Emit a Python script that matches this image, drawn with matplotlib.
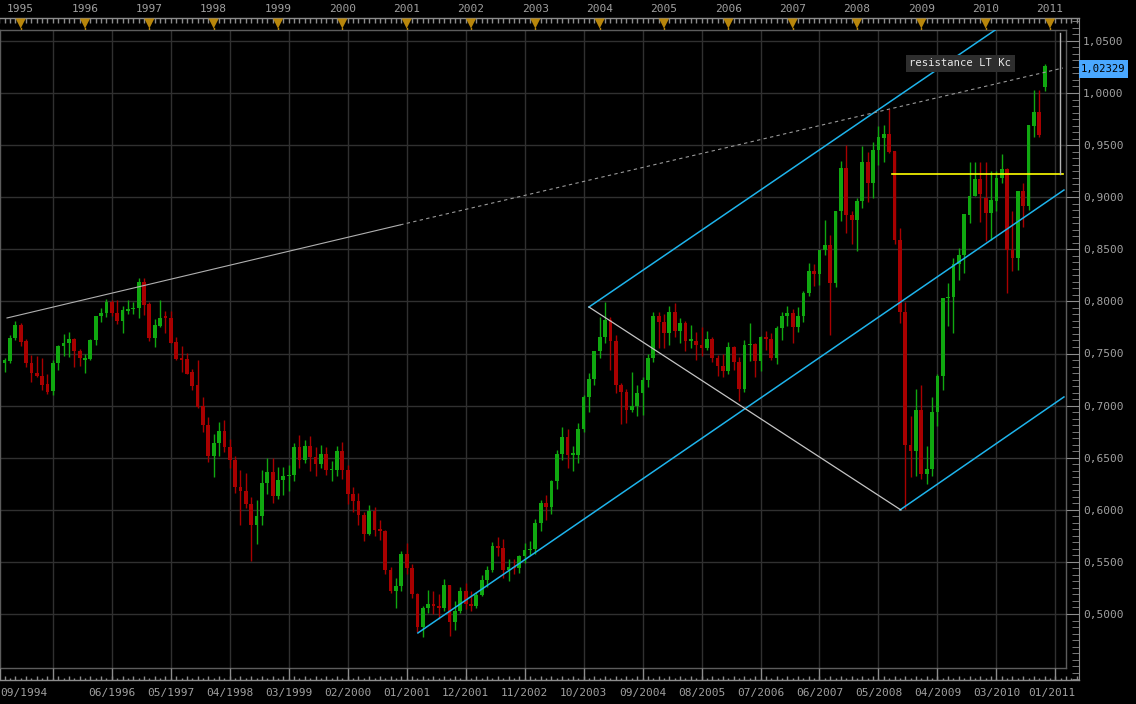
"""Monthly candlestick chart, Oct 1994 - Dec 2010, with channel lines."""
import numpy as np
import matplotlib
matplotlib.use('Agg')
import matplotlib.pyplot as plt
from matplotlib.patches import Polygon, Rectangle

W, H = 1136, 704

# month index 0 = Oct 1994
OPEN = [.741, .743, .765, .777, .762, .741, .731, .728, .721, .714,
        .7405, .7575, .7597, .7635, .7525, .7438, .7447, .763, .786, .789,
        .799, .789, .7815, .7907, .7926, .7935, .8186, .7975, .7652, .7767,
        .7853, .7837, .7607, .7457, .745, .7326, .7198, .700, .681, .652,
        .664, .676, .660, .648, .622, .618, .606, .585, .594, .626,
        .636, .613, .629, .632, .633, .660, .648, .661, .651, .644,
        .654, .638, .638, .656, .638, .615, .608, .595, .577, .599,
        .581, .580, .542, .522, .527, .558, .544, .519, .488, .506,
        .510, .508, .506, .528, .492, .503, .522, .510, .508, .518,
        .533, .542, .565, .563, .542, .545, .544, .556, .561, .562,
        .587, .607, .603, .628, .654, .670, .653, .653, .678, .708,
        .726, .752, .766, .782, .762, .720, .713, .696, .700, .712,
        .725, .746, .786, .780, .770, .790, .772, .779, .762, .762,
        .758, .755, .764, .746, .738, .733, .756, .742, .716, .758,
        .759, .743, .766, .764, .746, .774, .786, .789, .775, .786,
        .808, .829, .826, .849, .854, .818, .887, .928, .883, .878,
        .8965, .934, .914, .945, .957, .9607, .9443, .859, .790, .662,
        .656, .696, .634, .639, .694, .728, .803, .804, .836, .845,
        .8829, .9012, .9175, .899, .885, .8966, .918, .927, .849, .842,
        .9058, .892, .968, .982, 1.006]
HIGH = [.746, .768, .781, .779, .764, .749, .748, .746, .730, .7436,
        .758, .7687, .7706, .765, .754, .7495, .764, .786, .794, .802,
        .8013, .801, .7956, .8018, .7994, .8225, .8225, .7997, .7831, .8013,
        .7907, .7907, .7656, .7572, .7505, .7352, .7438, .708, .689, .673,
        .684, .686, .668, .652, .638, .635, .612, .609, .638, .650,
        .650, .641, .641, .643, .664, .672, .667, .671, .660, .662,
        .660, .647, .661, .665, .643, .622, .616, .598, .605, .603,
        .590, .581, .545, .535, .560, .568, .548, .520, .508, .523,
        .522, .519, .534, .528, .512, .526, .530, .522, .521, .537,
        .546, .569, .574, .572, .553, .553, .557, .568, .570, .591,
        .609, .614, .629, .657, .679, .678, .661, .683, .710, .731,
        .752, .785, .799, .785, .768, .722, .716, .732, .720, .727,
        .750, .790, .790, .788, .796, .798, .784, .781, .777, .771,
        .775, .772, .766, .749, .750, .761, .757, .747, .763, .779,
        .760, .767, .772, .770, .776, .790, .796, .793, .795, .810,
        .837, .836, .849, .878, .864, .887, .935, .950, .887, .899,
        .949, .943, .953, .968, .969, .985, .944, .870, .799, .690,
        .716, .720, .661, .708, .730, .803, .818, .842, .851, .884,
        .934, .934, .934, .934, .925, .925, .941, .928, .887, .906,
        .914, .969, 1.003, 1.003, 1.028]
LOW = [.732, .741, .763, .757, .737, .723, .727, .715, .711, .7105,
       .734, .7475, .7465, .737, .738, .731, .7438, .7582, .7805, .7853,
       .786, .7783, .7697, .7879, .7879, .7841, .7869, .762, .7565, .7757,
       .7697, .760, .7438, .7326, .7304, .715, .698, .675, .646, .631,
       .652, .655, .640, .616, .585, .602, .551, .567, .585, .615,
       .607, .610, .614, .618, .628, .640, .645, .637, .632, .640,
       .633, .628, .632, .630, .606, .598, .585, .570, .576, .575,
       .571, .538, .520, .506, .522, .538, .515, .483, .478, .501,
       .500, .495, .503, .479, .485, .501, .505, .503, .506, .517,
       .526, .540, .556, .535, .532, .538, .539, .549, .557, .558,
       .580, .590, .596, .620, .648, .640, .637, .645, .675, .694,
       .720, .746, .760, .734, .712, .682, .683, .694, .690, .691,
       .718, .742, .755, .755, .758, .766, .760, .752, .755, .744,
       .748, .753, .742, .728, .727, .730, .734, .704, .713, .743,
       .727, .733, .753, .744, .740, .763, .776, .760, .771, .780,
       .805, .815, .816, .845, .768, .814, .877, .866, .855, .848,
       .8895, .895, .899, .931, .934, .942, .855, .779, .601, .631,
       .632, .630, .625, .632, .680, .715, .776, .770, .821, .827,
       .875, .901, .876, .858, .859, .887, .914, .808, .829, .830,
       .871, .888, .958, .958, 1.002]
CLOSE = [.744, .765, .777, .761, .741, .731, .728, .720, .713, .7405,
         .7575, .7597, .7635, .7525, .7457, .7457, .763, .786, .789, .799,
         .789, .781, .7917, .7926, .7936, .8186, .7965, .7652, .7774, .7837,
         .7843, .7603, .7445, .7438, .7306, .7188, .699, .681, .652, .664,
         .676, .660, .648, .622, .618, .606, .585, .594, .626, .636,
         .613, .629, .632, .633, .660, .648, .661, .651, .644, .654,
         .638, .638, .656, .638, .615, .608, .595, .577, .599, .581,
         .580, .542, .522, .527, .558, .544, .519, .488, .506, .510,
         .508, .506, .528, .492, .503, .522, .510, .508, .518, .533,
         .542, .565, .563, .542, .545, .544, .556, .561, .562, .587,
         .607, .603, .628, .654, .670, .653, .653, .678, .708, .726,
         .752, .766, .782, .762, .720, .713, .696, .700, .712, .725,
         .746, .786, .780, .770, .790, .772, .779, .762, .762, .758,
         .755, .764, .746, .738, .733, .756, .742, .716, .758, .759,
         .743, .766, .764, .746, .774, .786, .789, .775, .786, .808,
         .829, .826, .849, .854, .818, .887, .928, .883, .878, .896,
         .934, .914, .945, .9575, .9607, .9437, .859, .790, .662, .656,
         .696, .634, .639, .694, .728, .803, .804, .836, .845, .884,
         .9012, .9175, .903, .885, .8973, .9188, .927, .849, .842, .9058,
         .892, .969, .982, .9597, 1.026]

YEARS = ['1995', '1996', '1997', '1998', '1999', '2000', '2001', '2002', '2003',
         '2004', '2005', '2006', '2007', '2008', '2009', '2010', '2011']
DATE_LABELS = ['06/1996', '05/1997', '04/1998', '03/1999', '02/2000', '01/2001',
               '12/2001', '11/2002', '10/2003', '09/2004', '08/2005', '07/2006',
               '06/2007', '05/2008', '04/2009', '03/2010']
FIRST_LABEL = '09/1994'
LAST_LABEL = '01/2011'
PRICE_TICKS = [0.50, 0.55, 0.60, 0.65, 0.70, 0.75, 0.80, 0.85, 0.90, 0.95, 1.00, 1.05]
LAST_PRICE = 1.02329

# drawn annotations, (month index, price)
CHANNEL_LINES = [
    [(109.0, 0.7946), (186.5, 1.0665)],
    [(77.1, 0.4818), (197.6, 0.9069)],
    [(167.0, 0.5998), (197.6, 0.7083)],
]
WHITE_LINE = [(109.0, 0.7946), (167.2, 0.5998)]
GRAY_LINE = [(0.45, 0.7841), (197.4, 1.0240)]
RESISTANCE = 0.9225
RESISTANCE_SPAN = (165.5, 197.4)
MEASURE_X = 196.9
LABEL_TEXT = 'resistance LT Kc'

BG = '#000000'
GRID = '#303030'
FRAME = '#5c5c5c'
RULER = '#8c8c8c'
TXT = '#a0a0a0'
UP = '#10a810'
DOWN = '#a80000'
CYAN = '#1eb4ec'
GOLD = '#b8860b'
MONO = 'DejaVu Sans Mono'

# pixel geometry
X0, DX = 4.6, 5.361          # x pixel of month 0, pixels per month
Y500, DY = 614.0, 1042.0      # y pixel of price 0.5, pixels per 1.0


def px2i(x):
    return (x - X0) / DX


def px2v(y):
    return 0.5 + (Y500 - y) / DY


def add_ax(fig, x0, y0, x1, y1):
    a = fig.add_axes([x0 / W, 1 - y1 / H, (x1 - x0) / W, (y1 - y0) / H])
    a.set_facecolor('none')
    return a


fig = plt.figure(figsize=(W / 100, H / 100), dpi=100, facecolor=BG)

# ---- main panel ----
ax = add_ax(fig, 0, 30, 1066, 668)
ax.set_facecolor(BG)
ax.set_xlim(px2i(0), px2i(1066))
ax.set_ylim(px2v(668), px2v(30))
for s in ax.spines.values():
    s.set_color(FRAME)
    s.set_linewidth(1)
ax.set_xticks([])
ax.set_yticks([])

grid_idx = np.arange(9, 200, 11)
for g in grid_idx:
    ax.axvline(g, color=GRID, lw=1, zorder=0)
for p in PRICE_TICKS:
    ax.axhline(p, color=GRID, lw=1, zorder=0)

o = np.array(OPEN)
h = np.array(HIGH)
l = np.array(LOW)
c = np.array(CLOSE)
idx = np.arange(len(o))
col = np.where(c >= o, UP, DOWN)
ax.vlines(idx, l, h, colors=col, lw=1, zorder=2)
body = np.maximum(np.abs(c - o), 0.0015)
ax.bar(idx, body, bottom=np.minimum(o, c), width=0.7, color=col,
       linewidth=0, zorder=3)

# trend / channel lines
for (xa, ya), (xb, yb) in CHANNEL_LINES:
    ax.plot([xa, xb], [ya, yb], color=CYAN, lw=1.1, zorder=4)
(xa, ya), (xb, yb) = WHITE_LINE
ax.plot([xa, xb], [ya, yb], color='#c4c4c4', lw=0.9, zorder=4)
(xa, ya), (xb, yb) = GRAY_LINE
xs = 73.8
ys = np.interp(xs, [xa, xb], [ya, yb])
ax.plot([xa, xs], [ya, ys], color='#b0b0b0', lw=0.8, zorder=4)
ax.plot([xs, xb], [ys, yb], color='#9a9a9a', lw=0.8, ls=(0, (3, 3)), zorder=4)

ax.plot(RESISTANCE_SPAN, [RESISTANCE, RESISTANCE], color='#ffff00', lw=1.2, zorder=5)
ax.plot([MEASURE_X, MEASURE_X], [RESISTANCE, px2v(33)], color='#b4b4b4',
        lw=1, zorder=5)

ax.text(178.3, px2v(63.5), LABEL_TEXT, color='#e8e8e8', fontsize=7.6,
        family=MONO, ha='center', va='center', zorder=6,
        bbox=dict(boxstyle='square,pad=0.3', fc='#2e2e2e', ec='none'))

# ---- top ruler ----
axt = add_ax(fig, 0, 18, 1079, 30)
axt.set_xlim(px2i(0), px2i(1079))
axt.set_ylim(0, 12)
axt.axis('off')
axt.plot([px2i(0), px2i(1079)], [12, 12], color=RULER, lw=1, clip_on=False)
months = np.arange(-1, 201)
axt.vlines(months, 7.5, 12, color=RULER, lw=1)
jan = np.arange(3, 3 + 12 * len(YEARS), 12)
for j, yr in zip(jan, YEARS):
    axt.add_patch(Polygon([[j - 0.95, 11.5], [j + 0.95, 11.5], [j, 1.5]],
                          closed=True, fc=GOLD, ec='none', zorder=3))
    axt.plot([j, j], [0, 2], color=GOLD, lw=1)
    axt.text(j, 20.5, yr, color=TXT, fontsize=8, family=MONO,
             ha='center', va='center', clip_on=False)

# ---- bottom ruler ----
axb = add_ax(fig, 0, 668, 1079, 680)
axb.set_xlim(px2i(0), px2i(1079))
axb.set_ylim(0, 12)
axb.axis('off')
axb.plot([px2i(0), px2i(1079)], [0, 0], color=RULER, lw=1, clip_on=False)
axb.vlines(months, 0, np.where(months % 2 == 0, 4, 2.5), color=RULER, lw=1)
axb.vlines(grid_idx, 0, 12, color=RULER, lw=1)
axb.vlines([px2i(0.5)], 0, 12, color=RULER, lw=1)
for g, lab in zip(grid_idx[1:], DATE_LABELS):
    axb.text(g, -13, lab, color=TXT, fontsize=8, family=MONO,
             ha='center', va='center', clip_on=False)
axb.text(px2i(0), -13, FIRST_LABEL, color=TXT, fontsize=8, family=MONO,
         ha='left', va='center', clip_on=False)
axb.text(px2i(1076), -13, LAST_LABEL, color=TXT, fontsize=8, family=MONO,
         ha='right', va='center', clip_on=False)

# ---- right price ruler ----
axr = add_ax(fig, 1066, 18, 1079, 680)
axr.set_xlim(0, 1)
axr.set_ylim(px2v(680), px2v(18))
for k, s in axr.spines.items():
    s.set_visible(k == 'right')
axr.spines['right'].set_color(RULER)
axr.set_xticks([])
axr.yaxis.tick_right()
axr.set_yticks(PRICE_TICKS)
axr.set_yticklabels([f'{p:.4f}'.replace('.', ',') for p in PRICE_TICKS],
                    family=MONO, fontsize=8, color=TXT)
axr.set_yticks(np.arange(0.4375, 1.07, 0.00625), minor=True)
axr.tick_params(axis='y', which='major', direction='in', length=9.4,
                color=RULER, pad=3)
axr.tick_params(axis='y', which='minor', direction='in', length=4.7,
                color=RULER)

# last price tag
axr.add_patch(Rectangle((1.0, LAST_PRICE - 0.0085), 3.77, 0.0172,
                        fc='#4aa8ff', ec='none', clip_on=False, zorder=5))
axr.text(1.1, LAST_PRICE, f'{LAST_PRICE:.5f}'.replace('.', ','), color='#000000',
         fontsize=7.6, family=MONO, ha='left', va='center', zorder=6,
         clip_on=False)

fig.savefig('out.png', dpi=100, facecolor=BG)
